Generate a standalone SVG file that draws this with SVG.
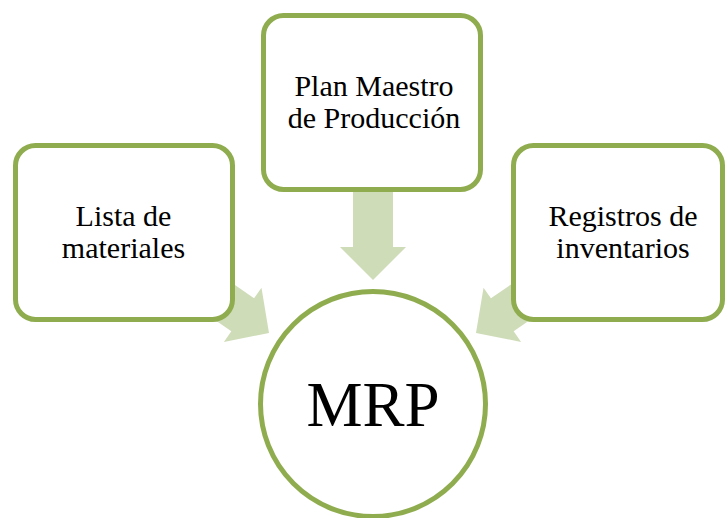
<svg xmlns="http://www.w3.org/2000/svg" width="726" height="518" viewBox="0 0 726 518">
  <style>
    .box { fill: #ffffff; stroke: #8fad4f; stroke-width: 5; }
    .arrow { fill: #cfdcb8; stroke: none; }
    .label { font-family: "Liberation Serif", "Times New Roman", serif; font-size: 30px; fill: #000000; text-anchor: middle; }
    .big { font-size: 63px; }
  </style>
  <defs>
    <!-- block arrow pointing along +x, tip at origin -->
    <polygon id="blockArrow" points="0,0 -32,-33 -32,-20 -90,-20 -90,20 -32,20 -32,33"/>
  </defs>

  <g id="connectors">
    <use href="#blockArrow" class="arrow" transform="translate(269,333) rotate(34.7)"/>
    <polygon class="arrow" points="353,180 393,180 393,247 406,247 373,280 340,247 353,247"/>
    <use href="#blockArrow" class="arrow" transform="translate(476,333) rotate(145.3)"/>
  </g>

  <g id="lista-materiales">
    <rect class="box" x="15.5" y="145.5" width="217" height="174" rx="20"/>
    <text class="label" x="123.5" y="226">Lista de</text>
    <text class="label" x="123.5" y="258">materiales</text>
  </g>

  <g id="plan-maestro">
    <rect class="box" x="263.5" y="15.5" width="217" height="174" rx="20"/>
    <text class="label" x="374" y="96">Plan Maestro</text>
    <text class="label" x="374" y="128">de Producción</text>
  </g>

  <g id="registros-inventarios">
    <rect class="box" x="513.5" y="145.5" width="209" height="174" rx="20"/>
    <text class="label" x="623" y="226">Registros de</text>
    <text class="label" x="623" y="258">inventarios</text>
  </g>

  <g id="mrp">
    <circle class="box" cx="373" cy="404" r="112.5"/>
    <text class="label big" x="373" y="426">MRP</text>
  </g>
</svg>
